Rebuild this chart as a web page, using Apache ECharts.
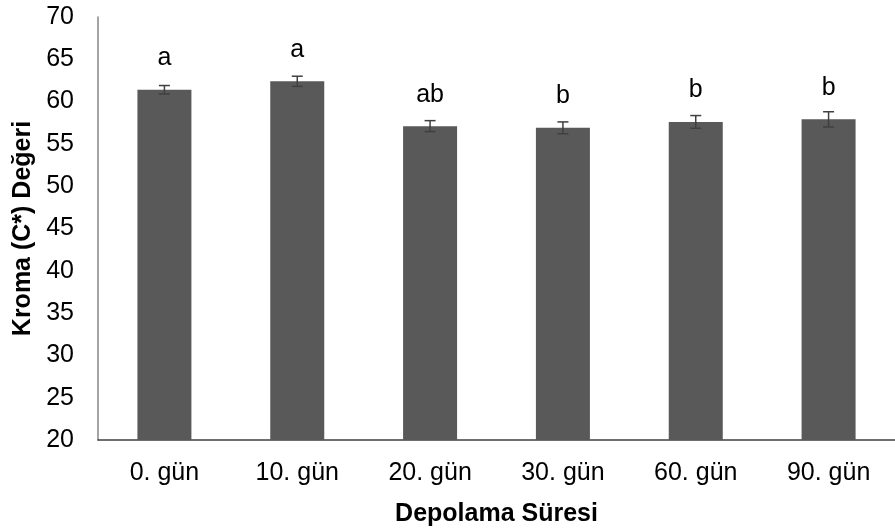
<!DOCTYPE html>
<html>
<head>
<meta charset="utf-8">
<script src="https://cdn.jsdelivr.net/npm/echarts@6/dist/echarts.min.js"></script>
<style>html,body{margin:0;padding:0;background:#fff}#c{width:895px;height:532px}</style>
</head>
<body>
<div id="c"></div>
<script>
const categories = ['0. gün', '10. gün', '20. gün', '30. gün', '60. gün', '90. gün'];
const means = [61.4, 62.4, 57.1, 56.9, 57.6, 57.9];
const errors = [0.5, 0.6, 0.65, 0.7, 0.75, 0.9];
const letters = ['a', 'a', 'ab', 'b', 'b', 'b'];
const yTicks = [20, 25, 30, 35, 40, 45, 50, 55, 60, 65, 70];

const font = 'Liberation Sans, Arial, sans-serif';
const chart = echarts.init(document.getElementById('c'), null, {renderer: 'canvas'});

chart.setOption({
  animation: false,
  backgroundColor: '#fff',
  grid: {left: 98, top: 17, width: 806, height: 425.5, containLabel: false},
  xAxis: {
    type: 'category',
    data: categories,
    axisTick: {show: false},
    axisLine: {lineStyle: {color: '#404040', width: 1.5}},
    axisLabel: {color: '#000', fontSize: 25, fontFamily: font, margin: 21},
    name: 'Depolama Süresi',
    nameLocation: 'middle',
    nameGap: 62,
    nameTextStyle: {color: '#000', fontSize: 25, fontWeight: 'bold', fontFamily: font}
  },
  yAxis: {
    type: 'value',
    min: yTicks[0],
    max: yTicks[yTicks.length - 1],
    interval: 5,
    splitLine: {show: false},
    axisTick: {show: false},
    axisLine: {show: true, lineStyle: {color: '#868686', width: 1.5}},
    axisLabel: {color: '#000', fontSize: 25, fontFamily: font, margin: 24},
    name: 'Kroma (C*) Değeri',
    nameLocation: 'middle',
    nameGap: 60,
    nameTextStyle: {color: '#000', fontSize: 25, fontWeight: 'bold', fontFamily: font}
  },
  series: [
    {
      type: 'bar',
      data: means,
      barWidth: 54,
      itemStyle: {color: '#595959'},
      label: {
        show: true,
        position: 'top',
        distance: 19,
        color: '#000',
        fontSize: 25,
        fontFamily: font,
        formatter: p => letters[p.dataIndex]
      },
      z: 2
    },
    {
      type: 'custom',
      data: means.map((m, i) => [i, m - errors[i], m + errors[i]]),
      renderItem: function (params, api) {
        const x = api.coord([api.value(0), 0])[0];
        const lo = api.coord([api.value(0), api.value(1)])[1];
        const hi = api.coord([api.value(0), api.value(2)])[1];
        const hw = 5.5;
        const st = {stroke: '#404040', lineWidth: 1.5};
        return {
          type: 'group',
          children: [
            {type: 'line', shape: {x1: x, y1: lo, x2: x, y2: hi}, style: st},
            {type: 'line', shape: {x1: x - hw, y1: hi, x2: x + hw, y2: hi}, style: st},
            {type: 'line', shape: {x1: x - hw, y1: lo, x2: x + hw, y2: lo}, style: st}
          ]
        };
      },
      z: 3
    }
  ]
});
</script>
</body>
</html>
